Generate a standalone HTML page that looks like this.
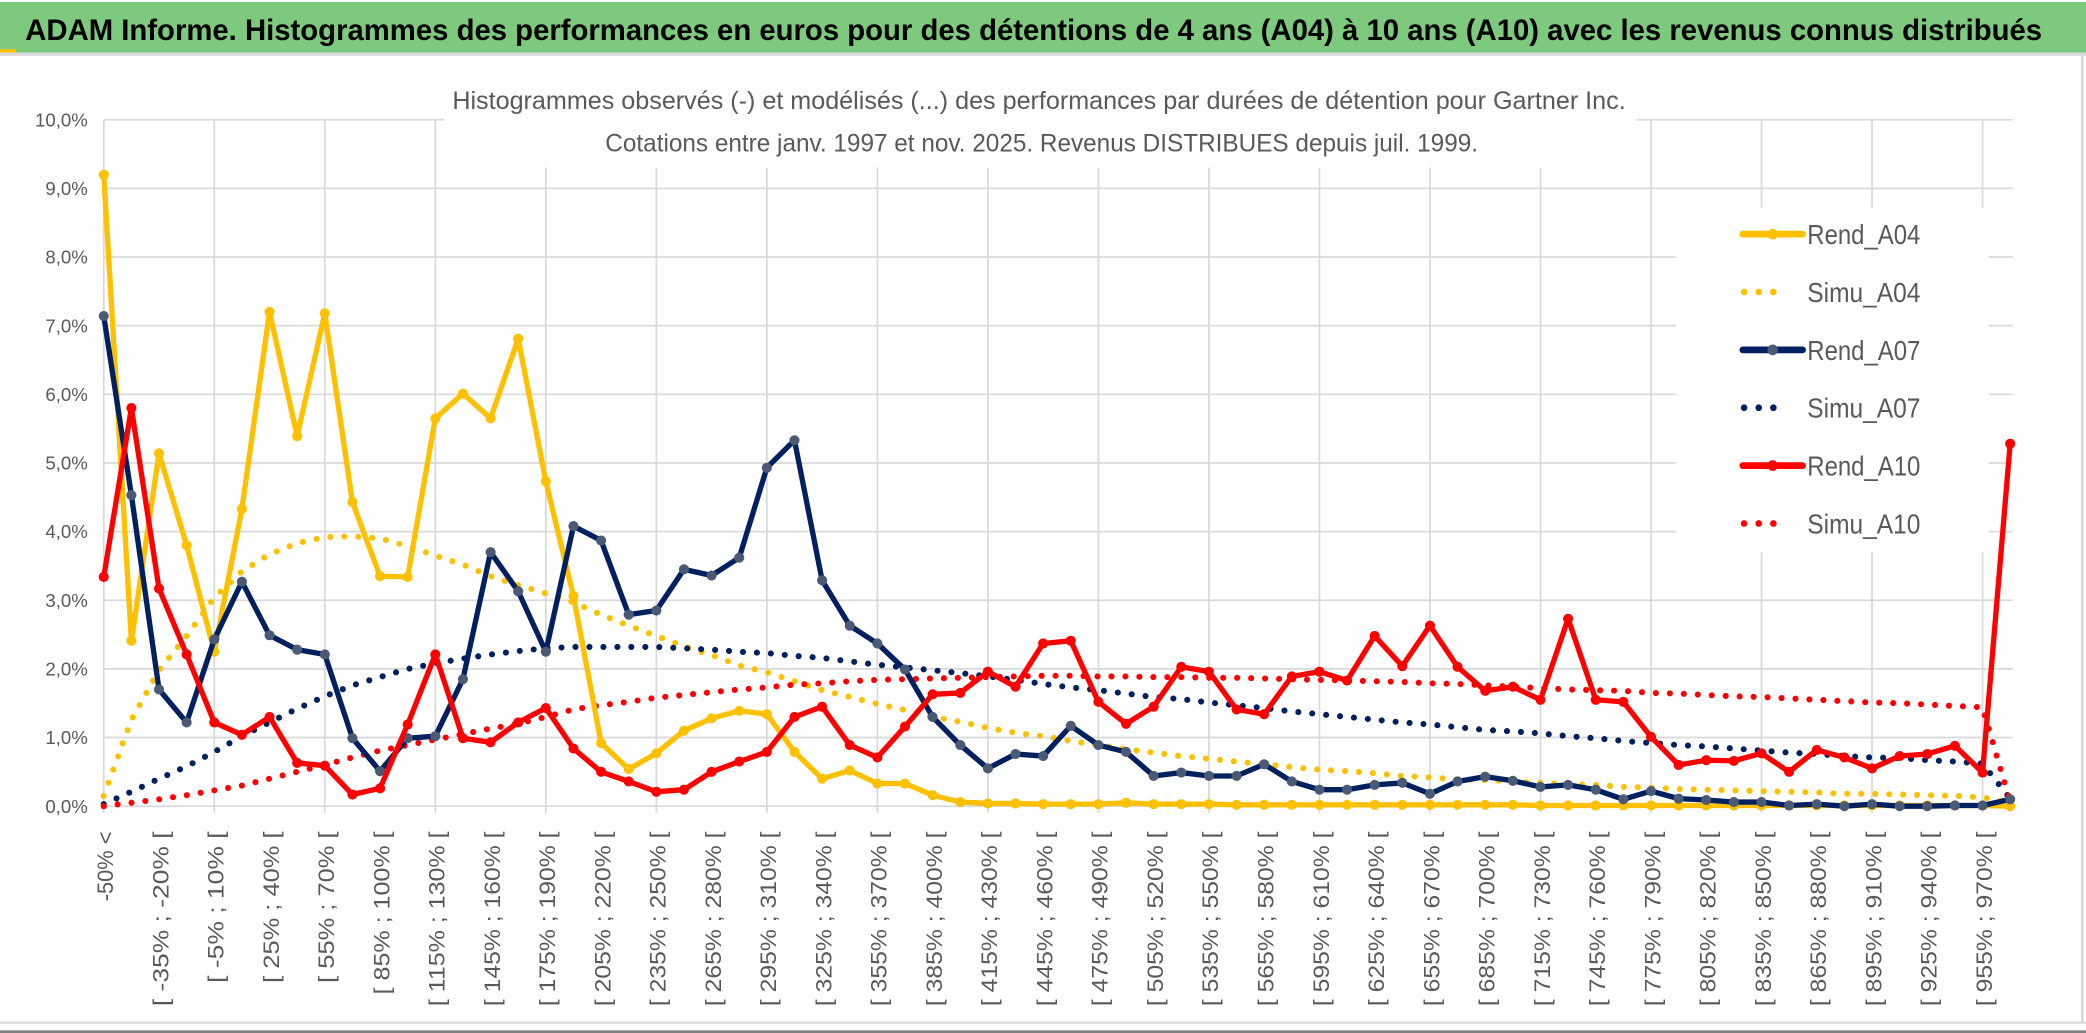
<!DOCTYPE html>
<html><head><meta charset="utf-8">
<style>
html,body{margin:0;padding:0;background:#fff;}
svg{display:block;}
</style></head>
<body>
<svg id="chart" xmlns="http://www.w3.org/2000/svg" width="2086" height="1033" viewBox="0 0 1568 776.5" preserveAspectRatio="none" font-family="'Liberation Sans', sans-serif">
  <rect x="0" y="0" width="1568" height="776.5" fill="#fff"/>
  <rect x="0" y="1.5" width="1568" height="38" fill="#7dc97e"/>
  <rect x="0" y="39.5" width="1568" height="2.5" fill="#d9d9d9"/>
  <rect x="0" y="37" width="12" height="2.5" fill="#ffc000"/>
  <text x="19" y="30" font-size="22.5" font-weight="bold" fill="#000" textLength="1516" lengthAdjust="spacingAndGlyphs">ADAM Informe. Histogrammes des performances en euros pour des détentions de 4 ans (A04) à 10 ans (A10) avec les revenus connus distribués</text>
  <g id="grid"></g>
  <rect x="334" y="58" width="896" height="68" fill="#fff"/>
  <text x="781" y="82" font-size="18.5" fill="#595959" text-anchor="middle" textLength="882" lengthAdjust="spacingAndGlyphs">Histogrammes observés (-) et modélisés (...) des performances par durées de détention pour Gartner Inc.</text>
  <text x="783" y="114" font-size="18.5" fill="#595959" text-anchor="middle" textLength="656" lengthAdjust="spacingAndGlyphs">Cotations entre janv. 1997 et nov. 2025. Revenus DISTRIBUES depuis juil. 1999.</text>
  <g id="yaxis"></g>
  <g id="xaxis"></g>
  <g id="series"></g>
  <rect x="1260" y="156" width="235" height="259" fill="#fff"/>
  <g id="legend"></g>
  <rect x="0" y="768" width="1568" height="1.5" fill="#d9d9d9"/>
  <rect x="1564.5" y="42" width="1.5" height="727" fill="#d0d0d0"/>
  <rect x="0" y="774.5" width="1568" height="2" fill="#808080"/>
</svg>
<script>
const categoryCount = 70;
const yTicks = [0,1,2,3,4,5,6,7,8,9,10];
const yTickLabels = ["0,0%","1,0%","2,0%","3,0%","4,0%","5,0%","6,0%","7,0%","8,0%","9,0%","10,0%"];
const binLowers = [-50,-50,-35,-20,-5,10,25,40,55,70,85,100,115,130,145,160,175,190,205,220,235,250,265,280,295,310,325,340,355,370,385,400,415,430,445,460,475,490,505,520,535,550,565,580,595,610,625,640,655,670,685,700,715,730,745,760,775,790,805,820,835,850,865,880,895,910,925,940,955,970];
const rendA04 = [9.2,2.41,5.14,3.8,2.25,4.33,7.2,5.39,7.18,4.43,3.35,3.34,5.65,6.01,5.65,6.81,4.73,3.06,0.92,0.54,0.77,1.1,1.28,1.39,1.34,0.79,0.4,0.52,0.33,0.33,0.16,0.06,0.04,0.04,0.03,0.03,0.03,0.05,0.03,0.03,0.03,0.02,0.02,0.02,0.02,0.02,0.02,0.02,0.02,0.02,0.02,0.02,0.01,0.01,0.01,0.01,0.01,0.01,0.01,0.01,0.01,0.01,0.01,0.01,0.01,0.01,0.01,0.01,0.01,0.0];
const simuA04 = [0.15,1.26,1.98,2.48,3.04,3.42,3.67,3.83,3.92,3.93,3.9,3.79,3.65,3.52,3.35,3.22,3.1,2.97,2.79,2.63,2.48,2.33,2.2,2.05,1.95,1.82,1.69,1.59,1.49,1.4,1.3,1.23,1.14,1.07,1.02,0.95,0.89,0.83,0.78,0.73,0.69,0.65,0.61,0.57,0.53,0.51,0.48,0.44,0.42,0.39,0.38,0.36,0.34,0.32,0.31,0.28,0.27,0.25,0.24,0.23,0.22,0.21,0.2,0.18,0.18,0.17,0.16,0.15,0.13,0.05];
const rendA07 = [7.14,4.53,1.7,1.22,2.43,3.27,2.49,2.28,2.21,0.99,0.51,0.99,1.02,1.85,3.7,3.13,2.25,4.08,3.87,2.79,2.85,3.45,3.36,3.62,4.93,5.33,3.29,2.63,2.37,1.99,1.3,0.89,0.55,0.76,0.73,1.17,0.89,0.79,0.44,0.49,0.44,0.44,0.61,0.36,0.24,0.24,0.31,0.34,0.18,0.36,0.43,0.37,0.28,0.31,0.24,0.1,0.22,0.11,0.09,0.06,0.06,0.01,0.03,0.0,0.03,0.0,0.0,0.01,0.01,0.1];
const simuA07 = [0.03,0.21,0.4,0.58,0.79,1.02,1.22,1.42,1.6,1.76,1.88,2.0,2.08,2.15,2.21,2.26,2.3,2.32,2.32,2.32,2.32,2.3,2.28,2.25,2.23,2.19,2.16,2.11,2.06,2.02,1.98,1.94,1.89,1.84,1.78,1.73,1.69,1.64,1.59,1.56,1.51,1.47,1.43,1.38,1.34,1.3,1.26,1.22,1.19,1.15,1.11,1.09,1.06,1.02,0.99,0.95,0.92,0.89,0.87,0.84,0.81,0.78,0.76,0.73,0.71,0.7,0.67,0.65,0.62,0.11];
const rendA10 = [3.34,5.8,3.17,2.21,1.22,1.04,1.3,0.63,0.59,0.17,0.26,1.19,2.21,0.99,0.93,1.22,1.43,0.84,0.5,0.36,0.21,0.24,0.5,0.65,0.79,1.3,1.45,0.89,0.71,1.16,1.63,1.65,1.96,1.74,2.37,2.41,1.52,1.2,1.45,2.03,1.96,1.41,1.34,1.89,1.96,1.83,2.48,2.04,2.63,2.03,1.68,1.74,1.55,2.73,1.55,1.52,1.01,0.6,0.67,0.66,0.77,0.5,0.82,0.71,0.55,0.73,0.76,0.88,0.49,5.28];
const simuA10 = [0.0,0.05,0.1,0.16,0.23,0.3,0.4,0.5,0.6,0.71,0.81,0.89,0.97,1.05,1.13,1.2,1.3,1.41,1.47,1.52,1.58,1.62,1.66,1.7,1.73,1.77,1.79,1.82,1.84,1.85,1.86,1.87,1.88,1.89,1.9,1.9,1.89,1.89,1.88,1.88,1.87,1.87,1.86,1.85,1.84,1.83,1.82,1.81,1.79,1.78,1.76,1.74,1.72,1.7,1.69,1.68,1.65,1.64,1.62,1.6,1.59,1.57,1.55,1.53,1.51,1.5,1.48,1.46,1.44,0.06];
const legendLabels = ["Rend_A04","Simu_A04","Rend_A07","Simu_A07","Rend_A10","Simu_A10"];

const NS = "http://www.w3.org/2000/svg";
const X0 = 78, X1 = 1511, Y0 = 606, Y10 = 90;
function xScale(i){ return X0 + (X1 - X0) * i / (categoryCount - 1); }
function yScale(v){ return Y0 - (Y0 - Y10) * v / 10; }
function mk(tag, attrs, parent){
  const e = document.createElementNS(NS, tag);
  for (const k in attrs) e.setAttribute(k, attrs[k]);
  parent.appendChild(e);
  return e;
}
function catLabel(i){
  if (i === 0) return "-50% <";
  if (i === categoryCount - 1) return "> 970%";
  return "[ " + binLowers[i] + "% ; " + (binLowers[i] + 15) + "% [";
}

const grid = document.getElementById("grid");
yTicks.forEach(function(t){
  const l = mk("line", {x1: X0, x2: 1513, y1: yScale(t), y2: yScale(t), stroke: "#d9d9d9", "stroke-width": 1.3}, grid);
  
  
});
for (let i = 0; i < categoryCount; i += 4) {
  const l = mk("line", {x1: xScale(i), x2: xScale(i), y1: Y10, y2: Y0 + 5, stroke: "#d9d9d9", "stroke-width": 1.3}, grid);
  
  
}

const yaxis = document.getElementById("yaxis");
yTicks.forEach(function(t, k){
  const tx = mk("text", {x: 66, y: yScale(t) + 5, "font-size": 14, fill: "#595959", "text-anchor": "end"}, yaxis);
  tx.textContent = yTickLabels[k];
  
  
});

const xaxis = document.getElementById("xaxis");
for (let i = 0; i < categoryCount - 1; i += 2) {
  const x = xScale(i);
  const lab = catLabel(i);
  const tx = mk("text", {x: 0, y: 0, "font-size": 17, fill: "#595959", "text-anchor": "end", textLength: (lab.length * 8.75).toFixed(1), lengthAdjust: "spacingAndGlyphs", transform: "translate(" + (x + 7) + ",625) rotate(-90)"}, xaxis);
  tx.textContent = lab;
  
  
}

const seriesG = document.getElementById("series");
function pts(arr){ return arr.map(function(v, i){ return xScale(i).toFixed(2) + "," + yScale(v).toFixed(2); }).join(" "); }
function dotted(arr, color, name){
  const p = mk("polyline", {points: pts(arr), fill: "none", stroke: color, "stroke-width": 4.6, "stroke-linecap": "round", "stroke-dasharray": "0 10.5"}, seriesG);
  
  
}
function solid(arr, color, markerColor, name){
  const g = mk("g", {}, seriesG);
  
  
  const p = mk("polyline", {points: pts(arr), fill: "none", stroke: color, "stroke-width": 4, "stroke-linejoin": "round"}, g);
  
  
  arr.forEach(function(v, i){
    const c = mk("circle", {cx: xScale(i), cy: yScale(v), r: 3.8, fill: markerColor}, g);
    
    
  });
}
dotted(simuA04, "#ffc000", "simu-a04-series");
dotted(simuA07, "#002060", "simu-a07-series");
dotted(simuA10, "#ff0000", "simu-a10-series");
solid(rendA04, "#ffc000", "#ffc000", "rend-a04-series");
solid(rendA07, "#002060", "#4a5a74", "rend-a07-series");
solid(rendA10, "#ff0000", "#ff0000", "rend-a10-series");

const legend = document.getElementById("legend");
const legendColors = ["#ffc000","#ffc000","#002060","#002060","#ff0000","#ff0000"];
const legendMarkers = ["#ffc000",null,"#4a5a74",null,"#ff0000",null];
legendLabels.forEach(function(lab, k){
  const y = 176 + k * 43.5;
  const g = mk("g", {}, legend);
  
  
  if (legendMarkers[k]) {
    mk("line", {x1: 1310, x2: 1355, y1: y, y2: y, stroke: legendColors[k], "stroke-width": 5, "stroke-linecap": "round"}, g);
    mk("circle", {cx: 1332.5, cy: y, r: 4, fill: legendMarkers[k]}, g);
  } else {
    mk("line", {x1: 1311, x2: 1344, y1: y, y2: y, stroke: legendColors[k], "stroke-width": 5, "stroke-linecap": "round", "stroke-dasharray": "0 11"}, g);
  }
  const t = mk("text", {x: 1358.5, y: y + 7.5, "font-size": 21, fill: "#595959", textLength: 85, lengthAdjust: "spacingAndGlyphs"}, g);
  t.textContent = lab;
});
</script>
</body></html>
